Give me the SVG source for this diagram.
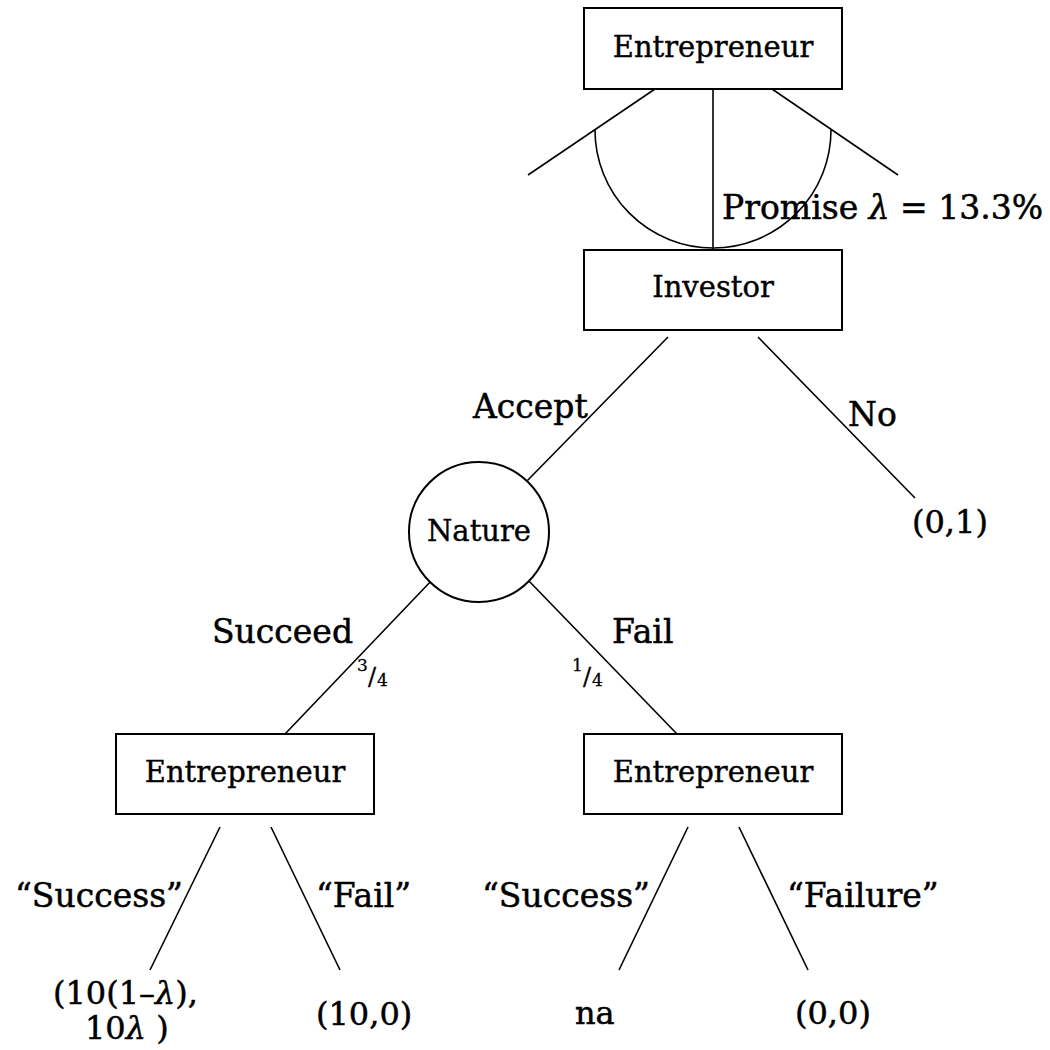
<svg xmlns="http://www.w3.org/2000/svg" width="1050" height="1050" viewBox="0 0 1050 1050">
  <style>
    .box { fill: #fff; stroke: #000; stroke-width: 2; }
    .edge { fill: none; stroke: #000; stroke-width: 1.6; }
    text { font-family: "DejaVu Serif", "Liberation Serif", serif; fill: #000; stroke: #000; stroke-width: 0.5; }
    .node-label { font-size: 29px; text-anchor: middle; stroke-width: 0.4; }
    .label { font-size: 33px; }
    .payoff { font-size: 32px; }
    .frac { font-size: 17px; stroke-width: 0.3; }
    .slash { font-size: 24px; }
    .lam { font-style: italic; }
  </style>
  <rect width="1050" height="1050" fill="#fff" stroke="none"/>

  <!-- branches -->
  <g id="connectors">
    <line class="edge" x1="655" y1="89" x2="528" y2="175"/>
    <line class="edge" x1="713" y1="89" x2="713" y2="250"/>
    <line class="edge" x1="772" y1="89" x2="898" y2="175"/>
    <path class="edge" d="M595,130 A118,118 0 0 0 831,130"/>
    <line class="edge" x1="668" y1="337" x2="525" y2="483"/>
    <line class="edge" x1="758" y1="337" x2="915" y2="498"/>
    <line class="edge" x1="433" y1="579" x2="285" y2="734"/>
    <line class="edge" x1="528" y1="580" x2="677" y2="734"/>
    <line class="edge" x1="220" y1="827" x2="150" y2="970"/>
    <line class="edge" x1="271" y1="827" x2="340" y2="970"/>
    <line class="edge" x1="688" y1="827" x2="619" y2="970"/>
    <line class="edge" x1="739" y1="827" x2="808" y2="970"/>
  </g>

  <!-- decision nodes -->
  <g id="entrepreneur-top">
    <rect class="box" x="584" y="8" width="258" height="81"/>
    <text class="node-label" x="713" y="57">Entrepreneur</text>
  </g>
  <g id="investor">
    <rect class="box" x="584" y="250" width="258" height="80"/>
    <text class="node-label" x="713" y="297">Investor</text>
  </g>
  <g id="nature">
    <circle class="box" cx="479" cy="532" r="70"/>
    <text class="node-label" x="479" y="541">Nature</text>
  </g>
  <g id="entrepreneur-succeed">
    <rect class="box" x="116" y="734" width="258" height="80"/>
    <text class="node-label" x="245" y="782">Entrepreneur</text>
  </g>
  <g id="entrepreneur-fail">
    <rect class="box" x="584" y="734" width="258" height="80"/>
    <text class="node-label" x="713" y="782">Entrepreneur</text>
  </g>

  <!-- branch labels -->
  <g id="labels">
    <text class="label" x="722" y="219">Promise <tspan class="lam">λ</tspan> = 13.3%</text>
    <text class="label" x="473" y="418">Accept</text>
    <text class="label" x="848" y="426">No</text>
    <text class="label" x="212" y="643">Succeed</text>
    <text class="label" x="612" y="643">Fail</text>
    <!-- probabilities as built-up fractions -->
    <text class="frac"><tspan x="357" y="671">3</tspan><tspan class="slash" x="368" y="685">/</tspan><tspan x="377" y="686">4</tspan></text>
    <text class="frac"><tspan x="572" y="671">1</tspan><tspan class="slash" x="583" y="685">/</tspan><tspan x="592" y="686">4</tspan></text>
    <text class="label" x="15" y="907">“Success”</text>
    <text class="label" x="316" y="907">“Fail”</text>
    <text class="label" x="482" y="907">“Success”</text>
    <text class="label" x="787" y="907">“Failure”</text>
  </g>

  <!-- payoffs -->
  <g id="payoffs">
    <text class="payoff" x="912" y="533">(0,1)</text>
    <text class="payoff" x="53" y="1004">(10(1–<tspan class="lam">λ</tspan>),</text>
    <text class="payoff" x="85" y="1039">10<tspan class="lam">λ</tspan> )</text>
    <text class="payoff" x="316" y="1025">(10,0)</text>
    <text class="payoff" x="575" y="1024">na</text>
    <text class="payoff" x="795" y="1024">(0,0)</text>
  </g>
</svg>
